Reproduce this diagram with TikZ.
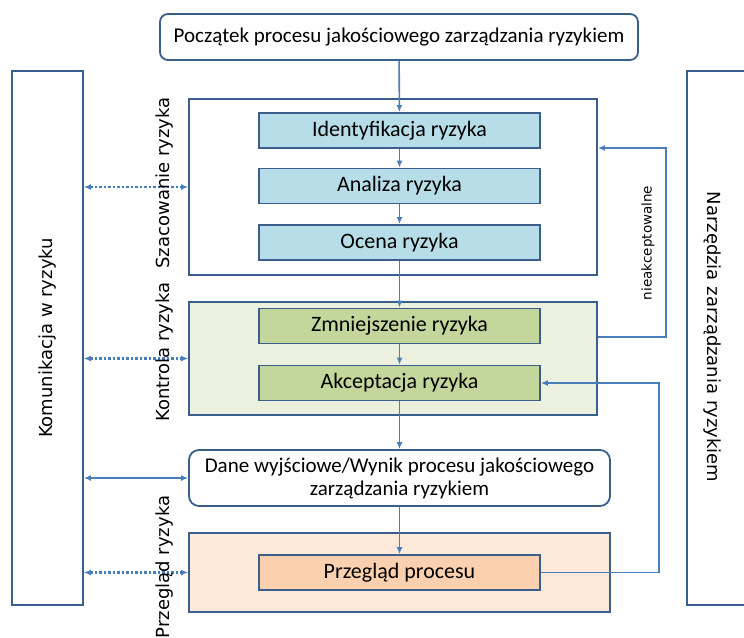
\documentclass[tikz,border=0pt]{standalone}
\usepackage{fontspec}
\setmainfont{Carlito}
\newfontfamily\bokfont{DejaVu Sans}
\usetikzlibrary{arrows.meta}

\definecolor{ramka}{HTML}{3A5F8C}
\definecolor{linia}{HTML}{4A7EBB}
\definecolor{niebieski}{HTML}{B7DEE8}
\definecolor{zielony}{HTML}{C3D69B}
\definecolor{brzoskwinia}{HTML}{FBD0AE}
\definecolor{jasnyzielony}{HTML}{EBF1DE}
\definecolor{jasnybrzoskwinia}{HTML}{FDE9D9}

\tikzset{
  blok/.style={draw=ramka, line width=1.8pt, inner sep=0pt, align=center,
    font=\fontsize{21}{23}\selectfont},
  etap/.style={blok, minimum width=281pt, minimum height=35pt,
    font=\fontsize{22}{24}\selectfont},
  obszar/.style={draw=ramka, line width=1.8pt, inner sep=0pt},
  strz/.style={draw=linia, line width=1.6pt, -{Latex[length=7pt,width=6pt]}},
  kropki/.style={draw=linia, line width=2.2pt, dash pattern=on 2.5pt off 2pt,
    {Latex[length=7pt,width=6pt]}-{Latex[length=7pt,width=6pt]}},
  obustr/.style={draw=linia, line width=1.6pt,
    {Latex[length=7pt,width=6pt]}-{Latex[length=7pt,width=6pt]}},
  podpis/.style={inner sep=0pt, font=\bokfont\fontsize{18}{20}\selectfont},
}

\begin{document}
\begin{tikzpicture}[x=1pt, y=-1pt]
  \useasboundingbox (0,0) rectangle (744,637);

  % Ramy boczne
  \node[obszar, minimum width=71pt, minimum height=534pt] (komunikacja) at (47.5,338) {};
  \node[podpis, rotate=90] (komtekst) at (47.5,338) {Komunikacja w ryzyku};
  \node[obszar, minimum width=71pt, minimum height=534pt] (narzedzia) at (722.5,338) {};
  \node[podpis, rotate=-90] (nartekst) at (712,337) {Narzędzia zarządzania ryzykiem};

  % Obszary etapów
  \node[obszar, fill=white, minimum width=408pt, minimum height=176pt] (szacowanie) at (393,187) {};
  \node[obszar, fill=jasnyzielony, minimum width=408pt, minimum height=113pt] (kontrola) at (393,358.5) {};
  \node[obszar, fill=jasnybrzoskwinia, minimum width=421pt, minimum height=79pt] (przeglad) at (399.5,572.5) {};

  % Bloki procesu
  \node[blok, rounded corners=8pt, minimum width=478pt, minimum height=46pt] (start) at (399,37)
    {Początek procesu jakościowego zarządzania ryzykiem};
  \node[etap, fill=niebieski] (identyfikacja) at (399.5,130.5) {Identyfikacja ryzyka};
  \node[etap, fill=niebieski] (analiza) at (399.5,186) {Analiza ryzyka};
  \node[etap, fill=niebieski] (ocena) at (399.5,242.5) {Ocena ryzyka};
  \node[etap, fill=zielony] (zmniejszenie) at (399.5,326) {Zmniejszenie ryzyka};
  \node[etap, fill=zielony] (akceptacja) at (399.5,383) {Akceptacja ryzyka};
  \node[blok, fill=white, rounded corners=10pt, minimum width=421pt, minimum height=56pt] (dane) at (399.5,478)
    {Dane wyjściowe/Wynik procesu jakościowego\\zarządzania ryzykiem};
  \node[etap, fill=brzoskwinia] (przegladproc) at (399.5,572.5) {Przegląd procesu};

  % Przepływ główny
  \draw[strz] (start) -- (identyfikacja);
  \draw[strz] (identyfikacja) -- (analiza);
  \draw[strz] (analiza) -- (ocena);
  \draw[strz] (ocena) -- (zmniejszenie);
  \draw[strz] (zmniejszenie) -- (akceptacja);
  \draw[strz] (akceptacja) -- (dane);
  \draw[strz] (dane) -- (przegladproc);

  % Powroty
  \coordinate (nieakc) at (666,148);
  \coordinate (powrot) at (659,383);
  \draw[strz] ([yshift=21.5pt]kontrola.east) -| (nieakc) -- (szacowanie.east |- nieakc);
  \node[inner sep=0pt, rotate=90, font=\bokfont\fontsize{13.5}{15}\selectfont] (nieakctekst) at (648,243) {nieakceptowalne};
  \draw[strz] (przegladproc.east) -| (powrot) -- (akceptacja.east);

  % Komunikacja
  \draw[kropki] (komunikacja.east |- szacowanie.west) -- (szacowanie.west);
  \draw[kropki] (komunikacja.east |- kontrola.west) -- (kontrola.west);
  \draw[obustr] (komunikacja.east |- dane.west) -- (dane.west);
  \draw[kropki] (komunikacja.east |- przeglad.west) -- (przeglad.west);

  % Nazwy etapów
  \node[podpis, rotate=90] (szactekst) at (165,183) {Szacowanie ryzyka};
  \node[podpis, rotate=90] (kontekst) at (165,352) {Kontrola ryzyka};
  \node[podpis, rotate=90] (przegtekst) at (165,567) {Przegląd ryzyka};
\end{tikzpicture}
\end{document}
